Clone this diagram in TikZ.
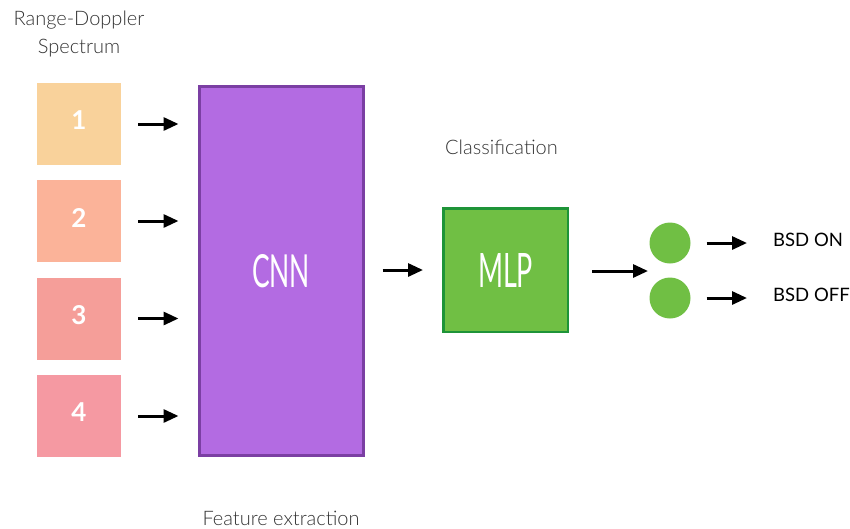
\documentclass[tikz,border=0pt]{standalone}
\usepackage{fontspec}
\setmainfont{Lato}
\newfontfamily\lightfont{Lato Light}
\usetikzlibrary{arrows.meta}
\definecolor{txtgray}{HTML}{333333}
\definecolor{rdA}{HTML}{F9D29B}
\definecolor{rdB}{HTML}{FBB399}
\definecolor{rdC}{HTML}{F59E99}
\definecolor{rdD}{HTML}{F599A2}
\definecolor{cnnfill}{HTML}{B36BE2}
\definecolor{cnnline}{HTML}{7B3FA3}
\definecolor{mlpfill}{HTML}{70BF44}
\definecolor{mlpline}{HTML}{1E9438}
\tikzset{
  rdbox/.style={minimum width=84pt, minimum height=82pt, inner sep=0pt,
    text=white, font=\fontsize{26}{26}\selectfont\bfseries},
  arr/.style={line width=3pt, -{Triangle[length=15pt,width=13pt]}},
  caption/.style={text=txtgray, font=\lightfont\fontsize{20}{28}\selectfont, inner sep=0pt},
  outlabel/.style={text=black, font=\fontsize{18.5}{18.5}\selectfont, inner sep=0pt, anchor=west},
  outdot/.style={circle, fill=mlpfill, minimum size=41pt, inner sep=0pt}
}
\begin{document}
\begin{tikzpicture}[x=1pt, y=-1pt]
\useasboundingbox (0,0) rectangle (850,528);

% input spectra
\node[rdbox, fill=rdA] (r1) at (79,124) {\raisebox{7pt}{1}};
\node[rdbox, fill=rdB] (r2) at (79,221) {\raisebox{7pt}{2}};
\node[rdbox, fill=rdC] (r3) at (79,318.5) {\raisebox{7pt}{3}};
\node[rdbox, fill=rdD] (r4) at (79,416) {\raisebox{7pt}{4}};

% feature extractor
\node[draw=cnnline, line width=3pt, fill=cnnfill, minimum width=164pt, minimum height=369pt, inner sep=0pt, text=white]
  (cnn) at (281,271) {\resizebox{58pt}{33pt}{CNN}};

% classifier
\node[draw=mlpline, line width=2.5pt, fill=mlpfill, minimum width=124.5pt, minimum height=123.5pt, inner sep=0pt, text=white]
  (mlp) at (505.5,270) {\resizebox{55pt}{34pt}{MLP}};

% output neurons
\node[outdot] (o1) at (670,243) {};
\node[outdot] (o2) at (670,298) {};
\coordinate (oc) at (650,271);

\node[outlabel] (on) at (773,240) {BSD ON};
\node[outlabel] (off) at (773,295) {BSD OFF};

% captions
\node[caption, align=center] (rdcap) at (79,34) {Range-Doppler\\Spectrum};
\node[caption] (cls) at (501.5,147) {Classification};
\node[caption] (feat) at (281,518) {Feature extraction};

% connectors
\foreach \r in {r1,r2,r3,r4}
  \draw[arr, shorten <=17pt, shorten >=19pt] (\r.east) -- (\r.east -| cnn.west);
\draw[arr, shorten <=18pt, shorten >=19pt] (cnn.east |- mlp.west) -- (mlp.west);
\draw[arr, shorten <=23pt, shorten >=2pt] (mlp.east |- oc) -- (oc);
\draw[arr, shorten <=16pt, shorten >=26pt] (o1.east) -- (o1.east -| on.west);
\draw[arr, shorten <=16pt, shorten >=26pt] (o2.east) -- (o2.east -| off.west);
\end{tikzpicture}
\end{document}
